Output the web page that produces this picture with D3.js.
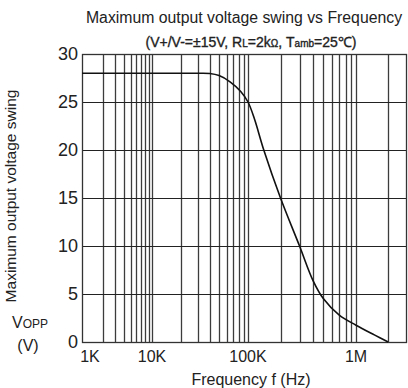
<!DOCTYPE html>
<html>
<head>
	<meta charset="utf-8">
	<script src="https://d3js.org/d3.v7.min.js"></script>
	<title>Maximum output voltage swing vs Frequency</title>
	<style>
		body { margin: 0; background: #fff; }
		text { font-family: "Liberation Sans", Arial, sans-serif; fill: #222; }
	</style>
</head>
<body>
	<div id="chart"></div>

	<script type="text/javascript">
		// data
		var freq = [1e3, 1e4, 3e4, 4e4, 5e4, 6.5e4, 8.4e4, 1e5, 1.15e5, 1.4e5, 2e5, 3e5, 4e5, 5e5, 7e5, 1e6, 1.5e6, 2e6];
		var vopp = [28, 28, 28, 27.97, 27.75, 27.1, 26.1, 25, 23.2, 20, 15, 10, 6.4, 4.5, 2.8, 1.75, 0.72, 0];

		var xTickVals = [1e3, 1e4, 1e5, 1e6];
		var xTickLabels = ["1K", "10K", "100K", "1M"];
		var yTickVals = [0, 5, 10, 15, 20, 25, 30];

		var width = 408, height = 388;
		var pLeft = 82, pRight = 407, pTop = 54, pBottom = 342;

		var svg = d3.select("#chart").append("svg")
			.attr("width", width)
			.attr("height", height);

		// grid in the datasheet is not evenly spaced per decade
		var x = d3.scaleLog()
			.domain([1e3, 1e4, 1e5, 1e6, 3e6])
			.range([pLeft, 152, 248, 356, pRight]);
		var y = d3.scaleLinear()
			.domain([0, 30])
			.range([pBottom, pTop]);

		// vertical grid lines 1,2..9 per decade
		var gridX = [];
		[1e3, 1e4, 1e5, 1e6].forEach(function(d){
			for (var k = 1; k <= 9; k++) {
				var v = d * k;
				if (v > 1e3 && v < 3e6) gridX.push(v);
			}
		});

		svg.selectAll(".vgrid")
			.data(gridX).enter()
			.append("line")
			.attr("class", "vgrid")
			.attr("x1", function(d){ return Math.round(x(d)) + 0.5; })
			.attr("x2", function(d){ return Math.round(x(d)) + 0.5; })
			.attr("y1", pTop)
			.attr("y2", pBottom)
			.attr("stroke", "#3c3c3c")
			.attr("stroke-width", 1.3);

		svg.selectAll(".hgrid")
			.data(yTickVals.slice(1, -1)).enter()
			.append("line")
			.attr("class", "hgrid")
			.attr("x1", pLeft)
			.attr("x2", pRight)
			.attr("y1", function(d){ return Math.round(y(d)) + 0.5; })
			.attr("y2", function(d){ return Math.round(y(d)) + 0.5; })
			.attr("stroke", "#222")
			.attr("stroke-width", 1);

		svg.append("rect")
			.attr("x", pLeft + 0.5)
			.attr("y", pTop + 0.5)
			.attr("width", pRight - pLeft - 1)
			.attr("height", pBottom - pTop)
			.attr("fill", "none")
			.attr("stroke", "#333")
			.attr("stroke-width", 1.3);

		// curve
		var pts = freq.map(function(f, i){ return [f, vopp[i]]; });
		var line = d3.line()
			.x(function(d){ return x(d[0]); })
			.y(function(d){ return y(d[1]); })
			.curve(d3.curveCatmullRom.alpha(0.5));

		svg.append("path")
			.datum(pts)
			.attr("d", line)
			.attr("fill", "none")
			.attr("stroke", "#111")
			.attr("stroke-width", 1.6);

		// tick labels
		svg.selectAll(".ylab")
			.data(yTickVals).enter()
			.append("text")
			.attr("class", "ylab")
			.attr("x", pLeft - 4)
			.attr("y", function(d){ return y(d) + 6; })
			.attr("text-anchor", "end")
			.style("font-size", "18px")
			.text(function(d){ return d; });

		svg.selectAll(".xlab")
			.data(xTickVals).enter()
			.append("text")
			.attr("class", "xlab")
			.attr("x", function(d, i){ return x(d) + (i == 0 ? 8 : 0); })
			.attr("y", pBottom + 20)
			.attr("text-anchor", "middle")
			.style("font-size", "16px")
			.text(function(d, i){ return xTickLabels[i]; });

		// titles
		svg.append("text")
			.attr("x", 244)
			.attr("y", 23)
			.attr("text-anchor", "middle")
			.style("font-size", "15.8px")
			.text("Maximum output voltage swing vs Frequency");

		var sub = svg.append("text")
			.attr("x", 251)
			.attr("y", 47)
			.attr("text-anchor", "middle")
			.style("font-size", "14px")
			.style("fill", "#222")
			.style("stroke", "#222")
			.style("stroke-width", 0.35);
		sub.append("tspan").text("(V+/V-=\u00b115V, R");
		sub.append("tspan").style("font-size", "10px").text("L");
		sub.append("tspan").text("=2k");
		sub.append("tspan").style("font-size", "10px").text("\u03a9");
		sub.append("tspan").text(", T");
		sub.append("tspan").style("font-size", "10px").text("amb");
		sub.append("tspan").text("=25\u2103)");

		svg.append("text")
			.attr("transform", "translate(16,196) rotate(-90)")
			.attr("text-anchor", "middle")
			.style("font-size", "15.5px")
			.text("Maximum output voltage swing");

		var vl = svg.append("text")
			.attr("x", 30)
			.attr("y", 328)
			.attr("text-anchor", "middle")
			.style("font-size", "16px");
		vl.append("tspan").text("V");
		vl.append("tspan").style("font-size", "12px").text("OPP");

		svg.append("text")
			.attr("x", 28)
			.attr("y", 351)
			.attr("text-anchor", "middle")
			.style("font-size", "16px")
			.text("(V)");

		svg.append("text")
			.attr("x", 251)
			.attr("y", 385)
			.attr("text-anchor", "middle")
			.style("font-size", "16px")
			.text("Frequency f (Hz)");
	</script>
</body>
</html>
